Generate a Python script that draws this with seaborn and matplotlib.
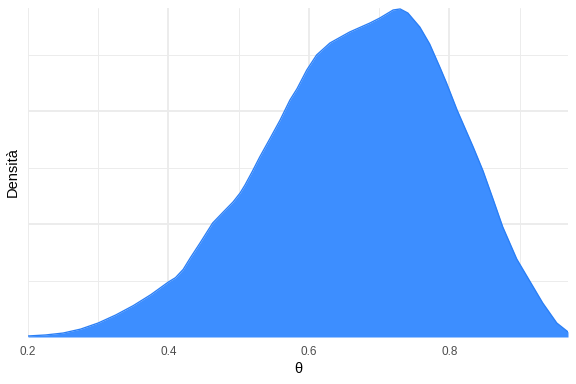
import matplotlib
matplotlib.use("Agg")
import matplotlib.pyplot as plt
import seaborn as sns
import numpy as np
import pandas as pd
from matplotlib.ticker import MultipleLocator

theta = [0.200, 0.225, 0.250, 0.275, 0.300, 0.325, 0.350, 0.375, 0.400, 0.410, 0.421,
         0.431, 0.445, 0.463, 0.478, 0.492, 0.502, 0.509, 0.519, 0.530, 0.545,
         0.559, 0.573, 0.583, 0.597, 0.611, 0.630, 0.658, 0.687, 0.701, 0.720,
         0.730, 0.741, 0.758, 0.772, 0.787, 0.796, 0.811, 0.834, 0.848, 0.862,
         0.876, 0.896, 0.915, 0.933, 0.953, 0.969]
density = [0.009, 0.018, 0.035, 0.070, 0.124, 0.195, 0.278, 0.375, 0.487, 0.525, 0.598,
           0.699, 0.832, 1.009, 1.106, 1.195, 1.274, 1.345, 1.460, 1.593, 1.761,
           1.920, 2.097, 2.196, 2.363, 2.496, 2.602, 2.699, 2.779, 2.823, 2.894,
           2.903, 2.867, 2.743, 2.593, 2.381, 2.248, 2.009, 1.681, 1.470, 1.225,
           0.975, 0.690, 0.490, 0.301, 0.124, 0.045]

x_label = "θ"
y_label = "Densità"
x_ticks = [0.2, 0.4, 0.6, 0.8]

df = pd.DataFrame({"theta": theta, "density": density})

sns.set_theme(style="white")
plt.rcParams["font.family"] = ["Liberation Sans", "DejaVu Sans"]

fig = plt.figure(figsize=(6, 4), dpi=96)
ax = fig.add_axes([28 / 576, 1 - 337 / 384, 540 / 576, (337 - 7.5) / 384])

ax.fill_between(df["theta"], 0, df["density"], color="#3D8EFF", linewidth=0, zorder=2)
sns.lineplot(data=df, x="theta", y="density", ax=ax, color="#2B7FF5", linewidth=1.0, zorder=3)

ax.set_xlim(0.2, 0.969)
ax.set_ylim(0, 2.916)
ax.xaxis.set_major_locator(MultipleLocator(0.2))
ax.xaxis.set_minor_locator(MultipleLocator(0.1))
ax.yaxis.set_major_locator(MultipleLocator(1.0))
ax.yaxis.set_minor_locator(MultipleLocator(0.5))
ax.set_xticks(x_ticks)
ax.set_xticklabels([f"{t:.1f}" for t in x_ticks])
ax.tick_params(axis="x", which="both", length=0, pad=7, labelsize=8.8, labelcolor="#4D4D4D")
ax.tick_params(axis="y", which="both", length=0, labelleft=False)
ax.grid(which="major", color="#EBEBEB", linewidth=1.4, zorder=0)
ax.grid(which="minor", color="#EBEBEB", linewidth=0.7, zorder=0)
ax.set_axisbelow(True)
for s in ax.spines.values():
    s.set_visible(False)

ax.set_xlabel(x_label, fontsize=11, color="black", labelpad=3)
ax.set_ylabel(y_label, fontsize=11, color="black", labelpad=6)

fig.savefig("out.png", dpi=96)
